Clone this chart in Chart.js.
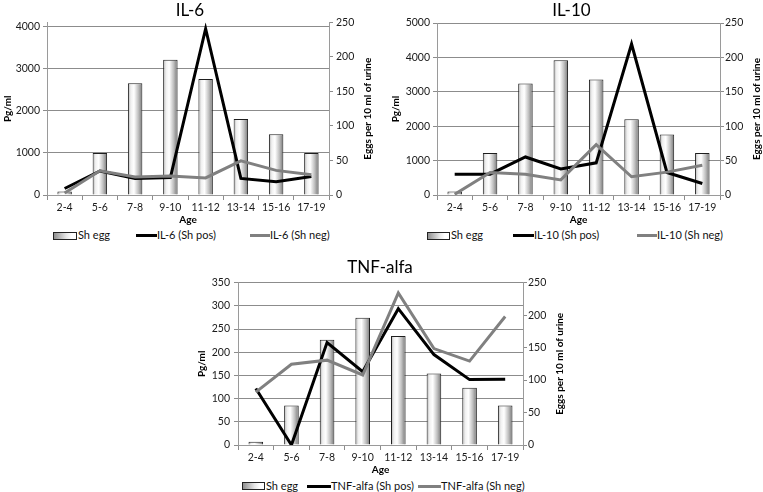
<!DOCTYPE html>
<html>
<head>
<meta charset="utf-8">
<script src="https://cdn.jsdelivr.net/npm/chart.js@4.4.1/dist/chart.umd.min.js"></script>
<style>
  html, body { margin: 0; padding: 0; background: #fff; overflow: hidden; }
  body { width: 763px; height: 492px; position: relative; font-family: Lato, sans-serif; }
  canvas { position: absolute; }
  .lg-text { position: absolute; font-size: 11px; line-height: 14px; color: #111; white-space: nowrap; }
  .lg-box { position: absolute; height: 6px; border: 1px solid #222;
            background: linear-gradient(to right, #8f8f8f, #e6e6e6 55%, #fff 80%, #fff); }
  .lg-line { position: absolute; height: 3px; }
</style>
</head>
<body>
<canvas id="il6" width="380" height="227" style="left:0;top:0"></canvas>
<canvas id="il10" width="383" height="227" style="left:380px;top:0"></canvas>
<canvas id="tnf" width="380" height="222" style="left:190px;top:255px"></canvas>
<div id="legends"></div>
<script>
// age groups on the x axis
const ageGroups = ['2-4', '5-6', '7-8', '9-10', '11-12', '13-14', '15-16', '17-19'];

// eggs per 10 ml of urine (right axis, same in all three panels)
const shEgg = [5, 61, 162, 196, 168, 110, 88, 61];

// cytokine levels, Pg/ml (left axis)
const il6Pos = [155, 570, 390, 415, 3950, 395, 315, 440];
const il6Neg = [45, 575, 430, 450, 405, 810, 585, 480];
const il10Pos = [605, 605, 1105, 755, 935, 4390, 655, 335];
const il10Neg = [20, 655, 605, 440, 1465, 530, 665, 865];
const tnfPos = [122, 0, 221, 158, 294, 195, 141, 142];
const tnfNeg = [114, 174, 183, 151, 328, 208, 181, 277];

// axis ranges [min, max, step, last labelled tick]
const il6Axis = [0, 4100, 1000, 4000];
const il10Axis = [0, 5000, 1000, 5000];
const tnfAxis = [0, 350, 50, 350];
const eggAxis = [0, 250, 50, 250];

const BAR_PCT = 0.41;
const GRID = '#8c8c8c';
const AXIS = '#9a9a9a';
const tickFont = { family: 'Lato', size: 10.5 };
const titleFont = { family: 'Lato', size: 10, weight: 'bold' };

// horizontal gradient for each bar, like the Excel "shaded" fill
function barFill(ctx) {
  const chart = ctx.chart;
  if (!chart.chartArea || ctx.type !== 'data') return '#e0e0e0';
  const xs = chart.scales.x;
  const cx = xs.getPixelForValue(ctx.dataIndex);
  const w = xs.width / ageGroups.length * BAR_PCT;
  const g = chart.ctx.createLinearGradient(cx - w / 2, 0, cx + w / 2, 0);
  g.addColorStop(0, '#b0b0b0');
  g.addColorStop(0.2, '#f0f0f0');
  g.addColorStop(0.42, '#ffffff');
  g.addColorStop(0.72, '#c0c0c0');
  g.addColorStop(1, '#767676');
  return g;
}

function axisTicks(a) {
  const out = [];
  for (let v = a[0]; v <= a[3]; v += a[2]) out.push({ value: v });
  return out;
}

// right axis title reads bottom-to-top, so draw it here
const rightTitle = {
  id: 'rightTitle',
  afterDraw(chart, args, opts) {
    const { ctx, chartArea } = chart;
    ctx.save();
    ctx.font = 'bold 10px Lato';
    ctx.fillStyle = '#000';
    ctx.textAlign = 'center';
    ctx.textBaseline = 'middle';
    ctx.translate(opts.x, (chartArea.top + chartArea.bottom) / 2);
    ctx.rotate(-Math.PI / 2);
    ctx.fillText(opts.text, 0, 0);
    ctx.restore();
  }
};

function makePanel(p) {
  const chart = new Chart(document.getElementById(p.id), {
    type: 'bar',
    plugins: [rightTitle],
    data: {
      labels: ageGroups,
      datasets: [
        {
          type: 'bar', label: 'Sh egg', data: shEgg, yAxisID: 'y2', order: 3,
          backgroundColor: barFill, borderColor: '#1e1e1e', borderWidth: 1,
          barPercentage: BAR_PCT, categoryPercentage: 1
        },
        {
          type: 'line', label: p.name + ' (Sh pos)', data: p.pos, yAxisID: 'y', order: 2,
          borderColor: '#000', borderWidth: 3, pointRadius: 0, tension: 0
        },
        {
          type: 'line', label: p.name + ' (Sh neg)', data: p.neg, yAxisID: 'y', order: 1,
          borderColor: '#808080', borderWidth: 3, pointRadius: 0, tension: 0
        }
      ]
    },
    options: {
      responsive: false,
      animation: false,
      layout: { padding: 0 },
      plugins: {
        legend: { display: false },
        tooltip: { enabled: false },
        title: {
          display: true, text: p.name, color: '#000',
          font: { family: 'Lato', size: 17, weight: 'normal' },
          padding: { top: p.titleTop, bottom: p.titleBottom }
        },
        rightTitle: { text: 'Eggs per 10 ml of urine', x: p.rightTitleX }
      },
      scales: {
        x: {
          offset: true,
          grid: { offset: true, drawOnChartArea: false, tickLength: 5, color: GRID },
          border: { color: AXIS },
          ticks: { font: tickFont, color: '#1a1a1a', padding: 1, maxRotation: 0, autoSkip: false },
          title: { display: true, text: 'Age', color: '#000', font: titleFont, padding: { top: 0, bottom: 1 } },
          afterFit: s => { s.height = 32; }
        },
        y: {
          position: 'left',
          min: p.axis[0], max: p.axis[1],
          afterBuildTicks: s => { s.ticks = axisTicks(p.axis); },
          ticks: { font: tickFont, color: '#1a1a1a', padding: p.leftPad, callback: v => String(v) },
          grid: { color: GRID, tickLength: 4 },
          border: { color: AXIS },
          title: { display: true, text: 'Pg/ml', color: '#000', font: titleFont, padding: { top: p.leftTitlePad, bottom: 0 } },
          afterFit: s => { s.width = p.leftW; }
        },
        y2: {
          position: 'right',
          min: eggAxis[0], max: eggAxis[1],
          afterBuildTicks: s => { s.ticks = axisTicks(eggAxis); },
          ticks: { font: tickFont, color: '#1a1a1a', padding: p.rightPad, callback: v => String(v) },
          grid: { drawOnChartArea: false, tickLength: 4, color: GRID },
          border: { color: AXIS },
          afterFit: s => { s.width = p.rightW; }
        }
      }
    }
  });

  // html legend under the panel
  const holder = document.getElementById('legends');
  const labels = chart.data.datasets.map(d => d.label);
  const sw = p.legend;
  const parts = [
    `<div class="lg-box" style="left:${sw[0]}px;top:${p.legendY - 4}px;width:${sw[1] - sw[0] - 3}px"></div>`,
    `<div class="lg-text" style="left:${sw[1]}px;top:${p.legendY - 7.5}px">${labels[0]}</div>`,
    `<div class="lg-line" style="left:${sw[2]}px;top:${p.legendY - 1.5}px;width:${sw[3] - sw[2]}px;background:#000"></div>`,
    `<div class="lg-text" style="left:${sw[3]}px;top:${p.legendY - 7.5}px">${labels[1]}</div>`,
    `<div class="lg-line" style="left:${sw[4]}px;top:${p.legendY - 1.5}px;width:${sw[5] - sw[4]}px;background:#808080"></div>`,
    `<div class="lg-text" style="left:${sw[5]}px;top:${p.legendY - 7.5}px">${labels[2]}</div>`
  ];
  holder.insertAdjacentHTML('beforeend', parts.join(''));
  return chart;
}

makePanel({
  id: 'il6', name: 'IL-6', pos: il6Pos, neg: il6Neg, axis: il6Axis,
  titleTop: 0, titleBottom: 2, leftW: 47, rightW: 51, leftPad: 3, rightPad: 3,
  leftTitlePad: 1.5, rightTitleX: 368,
  legendY: 235.5, legend: [53, 78, 136, 157, 250, 270]
});
makePanel({
  id: 'il10', name: 'IL-10', pos: il10Pos, neg: il10Neg, axis: il10Axis,
  titleTop: 0, titleBottom: 2.6, leftW: 57, rightW: 43, leftPad: 3, rightPad: 1,
  leftTitlePad: 9.3, rightTitleX: 377,
  legendY: 235.5, legend: [427, 451, 513, 534, 637, 657]
});
makePanel({
  id: 'tnf', name: 'TNF-alfa', pos: tnfPos, neg: tnfNeg, axis: tnfAxis,
  titleTop: 2, titleBottom: 5.3, leftW: 48, rightW: 47, leftPad: 4, rightPad: 1,
  leftTitlePad: 6, rightTitleX: 370,
  legendY: 486, legend: [242, 266, 307, 331, 418, 441]
});
</script>
</body>
</html>
